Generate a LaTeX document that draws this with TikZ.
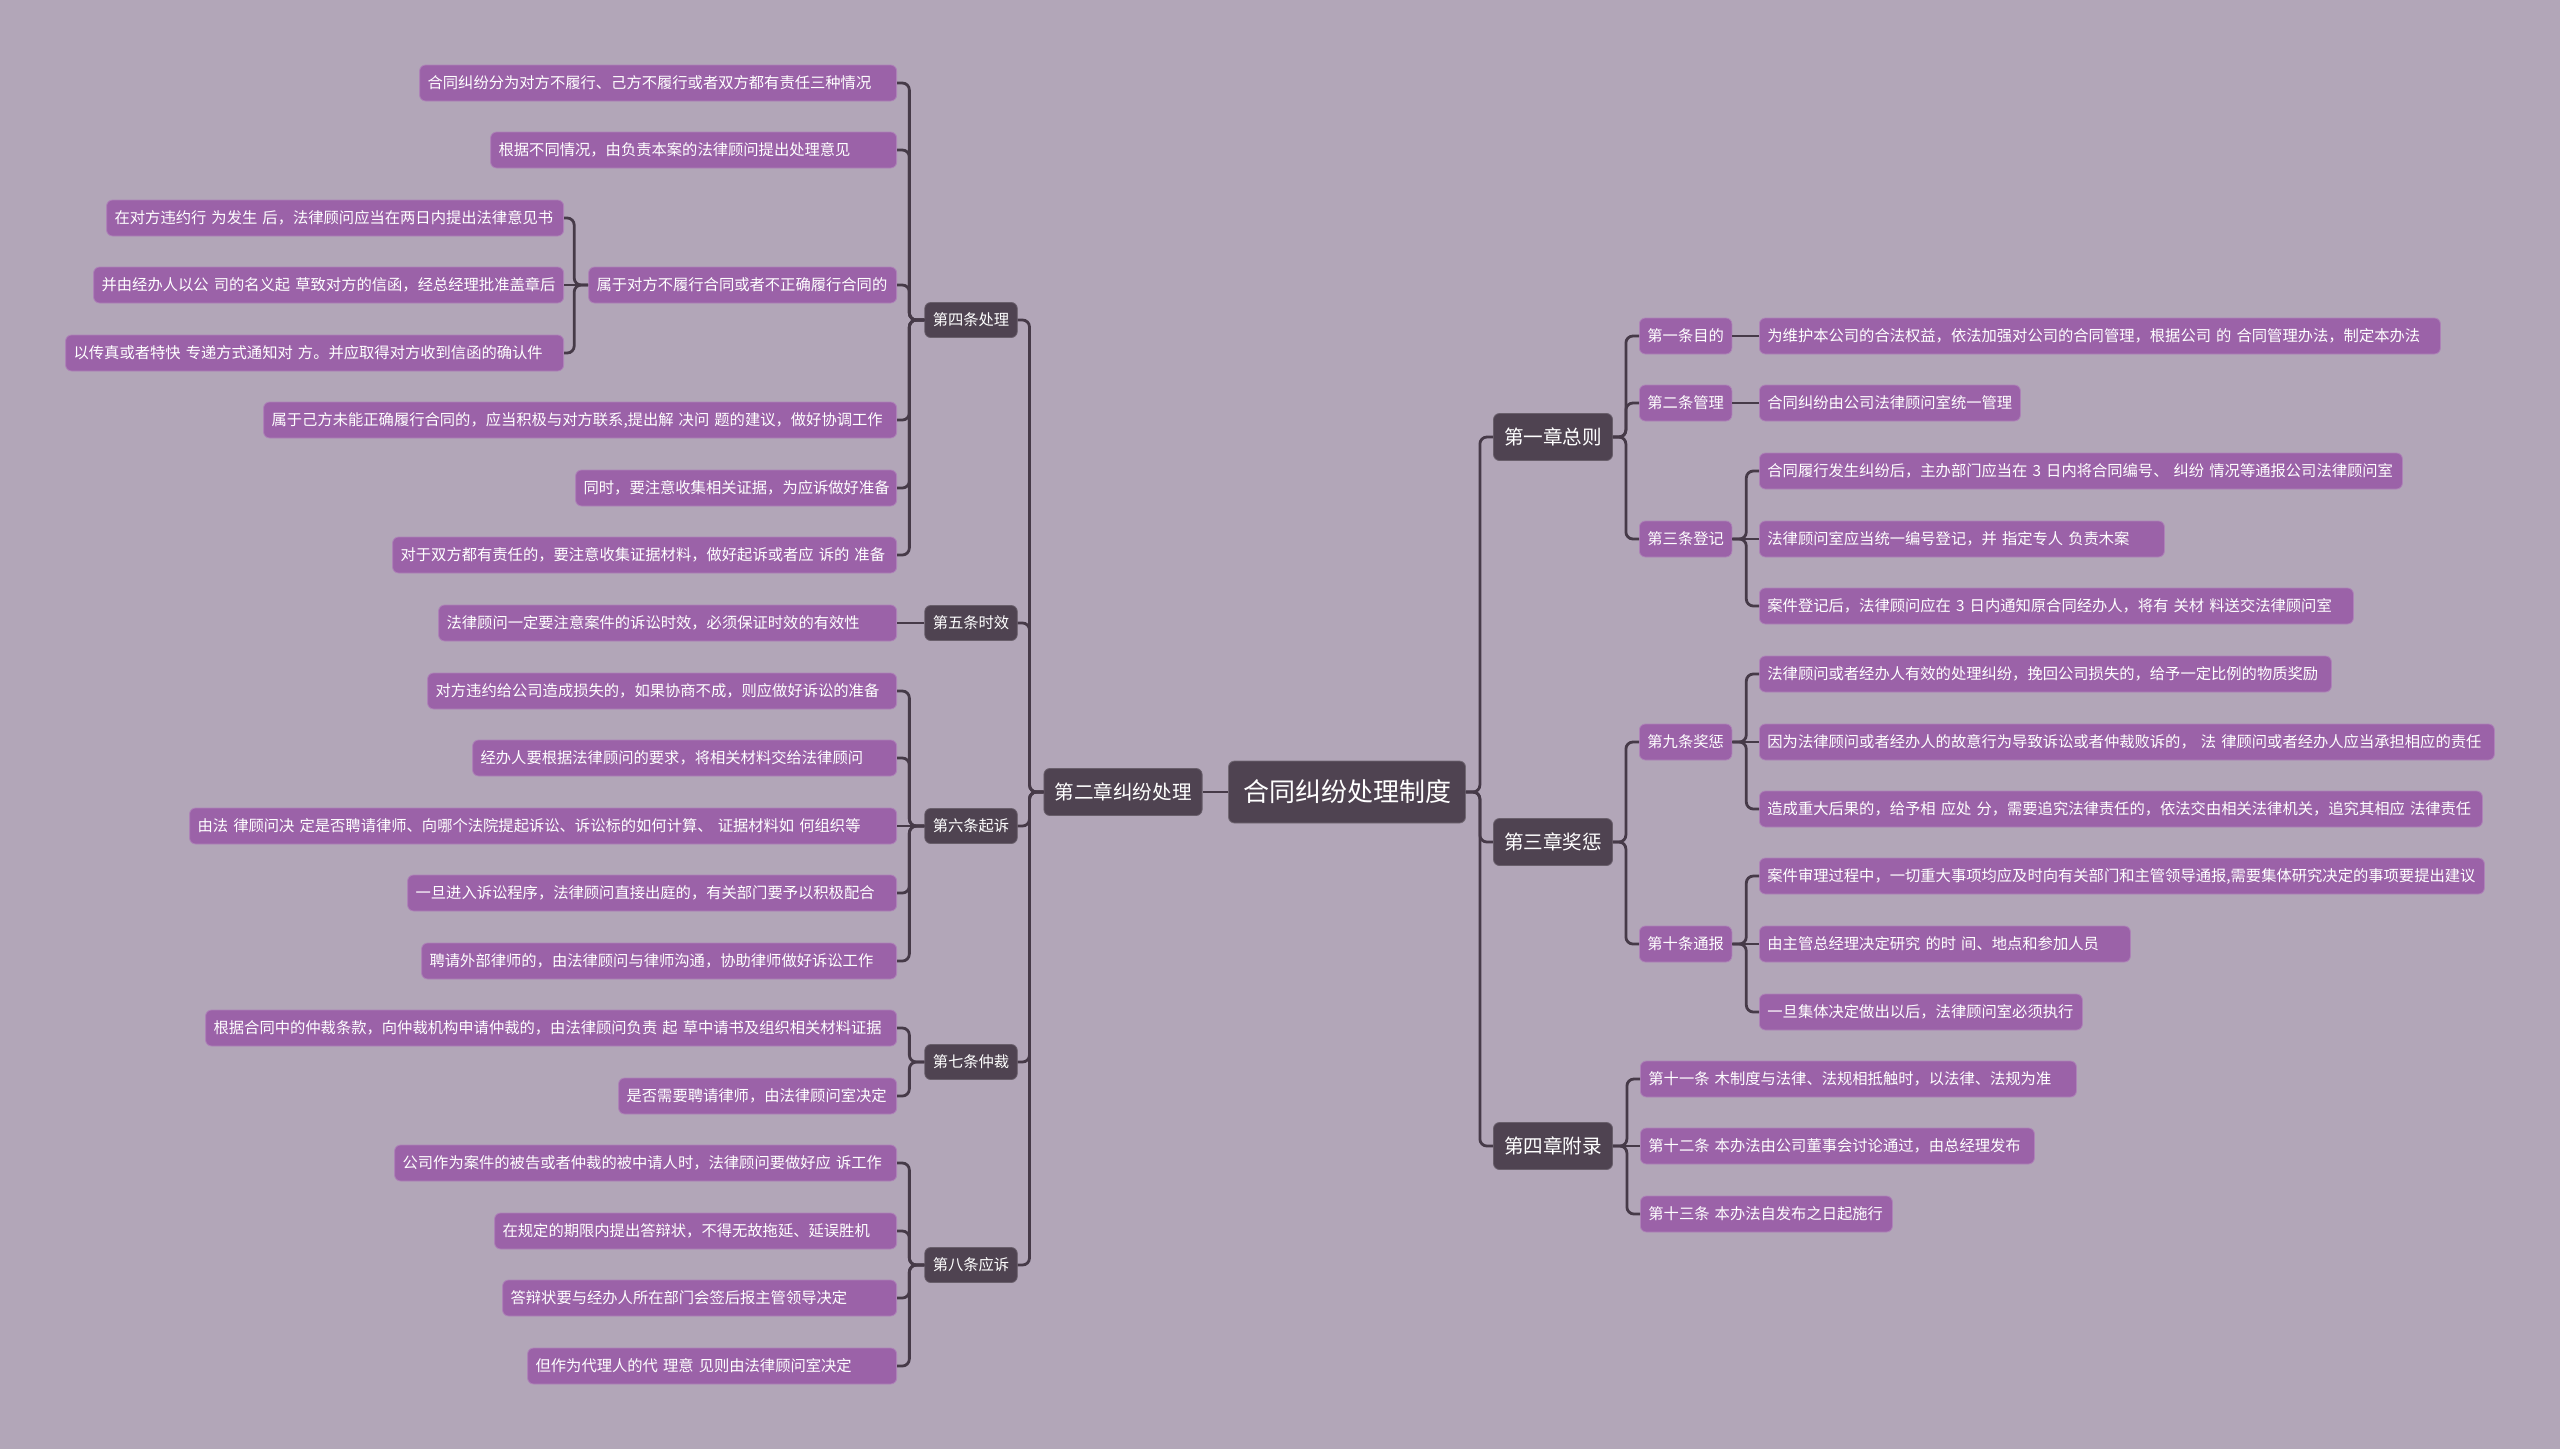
\documentclass[tikz,border=0pt]{standalone}
\usepackage{fontspec}
\setmainfont{Noto Sans CJK SC}
\usetikzlibrary{positioning}
\definecolor{bgc}{HTML}{B2A6B8}
\definecolor{darkc}{HTML}{4F4351}
\definecolor{leafc}{HTML}{9B62A8}
\definecolor{leafedge}{HTML}{AE82B8}
\definecolor{linec}{HTML}{463A48}
\tikzset{
    box/.style={
        text=white,
        rounded corners=6pt,
        line width=0.8pt,
        inner ysep=0pt
    },
    topic/.style={
        box,
        fill=darkc,
        draw=darkc!80!white,
        minimum height=62,
        inner xsep=14.5,
        font=\fontsize{26}{30}\selectfont
    },
    chapter/.style={
        box,
        fill=darkc,
        draw=darkc!85!white,
        minimum height=47,
        inner xsep=10.5,
        font=\fontsize{19.6}{23}\selectfont
    },
    article/.style={
        box,
        fill=darkc,
        draw=darkc!85!white,
        minimum height=35,
        inner xsep=8,
        font=\fontsize{15.3}{18}\selectfont
    },
    leaf/.style={
        box,
        fill=leafc,
        draw=leafedge,
        minimum height=36,
        inner xsep=8,
        font=\fontsize{15.3}{18}\selectfont
    },
    lw/.style={text width=#1pt, align=left},
    branch/.style={
        draw=linec,
        line width=2.8pt,
        rounded corners=7pt,
        to path={(\tikztostart) -- ++(#1,0) |- (\tikztotarget)}
    },
    stem/.style={draw=linec, line width=2.8pt}
}

\begin{document}
\begin{tikzpicture}[x=1pt,y=-1pt]
            % Background :
            \fill [bgc] (0,0) rectangle (2560,1449);
            \useasboundingbox (0,0) rectangle (2560,1449);

            % Centre
            \node (root) [topic] at (1347,792) {合同纠纷处理制度};
            \node (ch2) [chapter] at (1123,792) {第二章纠纷处理};
            \node (ch1) [chapter] at (1553,437) {第一章总则};
            \node (ch3) [chapter] at (1553,842) {第三章奖惩};
            \node (ch4) [chapter] at (1553,1146) {第四章附录};

            % Left articles
            \node (a4) [article] at (971,320) {第四条处理};
            \node (a5) [article] at (971,623) {第五条时效};
            \node (a6) [article] at (971,826) {第六条起诉};
            \node (a7) [article] at (971,1062) {第七条仲裁};
            \node (a8) [article] at (971,1265) {第八条应诉};

            % Left leaves
            \node (p4a) [leaf, lw=461, anchor=east] at (897,83) {合同纠纷分为对方不履行、己方不履行或者双方都有责任三种情况};
            \node (p4b) [leaf, lw=390, anchor=east] at (897,150) {根据不同情况，由负责本案的法律顾问提出处理意见};
            \node (p4c) [leaf, lw=292, anchor=east] at (897,285) {属于对方不履行合同或者不正确履行合同的};
            \node (p4c1) [leaf, lw=441, anchor=east] at (564,218) {在对方违约行 为发生 后，法律顾问应当在两日内提出法律意见书};
            \node (p4c2) [leaf, lw=454, anchor=east] at (564,285) {并由经办人以公 司的名义起 草致对方的信函，经总经理批准盖章后};
            \node (p4c3) [leaf, lw=482, anchor=east] at (564,353) {以传真或者特快 专递方式通知对 方。并应取得对方收到信函的确认件};
            \node (p4d) [leaf, lw=617, anchor=east] at (897,420) {属于己方未能正确履行合同的，应当积极与对方联系,提出解 决问 题的建议，做好协调工作};
            \node (p4e) [leaf, lw=305, anchor=east] at (897,488) {同时，要注意收集相关证据，为应诉做好准备};
            \node (p4f) [leaf, lw=488, anchor=east] at (897,555) {对于双方都有责任的，要注意收集证据材料，做好起诉或者应 诉的 准备};
            \node (p5a) [leaf, lw=442, anchor=east] at (897,623) {法律顾问一定要注意案件的诉讼时效，必须保证时效的有效性};
            \node (p6a) [leaf, lw=453, anchor=east] at (897,691) {对方违约给公司造成损失的，如果协商不成，则应做好诉讼的准备};
            \node (p6b) [leaf, lw=408, anchor=east] at (897,758) {经办人要根据法律顾问的要求，将相关材料交给法律顾问};
            \node (p6c) [leaf, lw=691, anchor=east] at (897,826) {由法 律顾问决 定是否聘请律师、向哪个法院提起诉讼、诉讼标的如何计算、 证据材料如 何组织等};
            \node (p6d) [leaf, lw=473, anchor=east] at (897,893) {一旦进入诉讼程序，法律顾问直接出庭的，有关部门要予以积极配合};
            \node (p6e) [leaf, lw=459, anchor=east] at (897,961) {聘请外部律师的，由法律顾问与律师沟通，协助律师做好诉讼工作};
            \node (p7a) [leaf, lw=675, anchor=east] at (897,1028) {根据合同中的仲裁条款，向仲裁机构申请仲裁的，由法律顾问负责 起 草中请书及组织相关材料证据};
            \node (p7b) [leaf, lw=262, anchor=east] at (897,1096) {是否需要聘请律师，由法律顾问室决定};
            \node (p8a) [leaf, lw=486, anchor=east] at (897,1163) {公司作为案件的被告或者仲裁的被中请人时，法律顾问要做好应 诉工作};
            \node (p8b) [leaf, lw=386, anchor=east] at (897,1231) {在规定的期限内提出答辩状，不得无故拖延、延误胜机};
            \node (p8c) [leaf, lw=378, anchor=east] at (897,1298) {答辩状要与经办人所在部门会签后报主管领导决定};
            \node (p8d) [leaf, lw=353, anchor=east] at (897,1366) {但作为代理人的代 理意 见则由法律顾问室决定};

            % Right articles
            \node (a1) [leaf, anchor=west] at (1639,336) {第一条目的};
            \node (a2) [leaf, anchor=west] at (1639,403) {第二条管理};
            \node (a3) [leaf, anchor=west] at (1639,539) {第三条登记};
            \node (a9) [leaf, anchor=west] at (1639,742) {第九条奖惩};
            \node (a10) [leaf, anchor=west] at (1639,944) {第十条通报};

            % Right leaves
            \node (q1a) [leaf, lw=665, anchor=west] at (1759,336) {为维护本公司的合法权益，依法加强对公司的合同管理，根据公司 的 合同管理办法，制定本办法};
            \node (q2a) [leaf, lw=245, anchor=west] at (1759,403) {合同纠纷由公司法律顾问室统一管理};
            \node (q3a) [leaf, lw=627, anchor=west] at (1759,471) {合同履行发生纠纷后，主办部门应当在 3 日内将合同编号、 纠纷 情况等通报公司法律顾问室};
            \node (q3b) [leaf, lw=389, anchor=west] at (1759,539) {法律顾问室应当统一编号登记，并 指定专人 负责木案};
            \node (q3c) [leaf, lw=578, anchor=west] at (1759,606) {案件登记后，法律顾问应在 3 日内通知原合同经办人，将有 关材 料送交法律顾问室};
            \node (q9a) [leaf, lw=556, anchor=west] at (1759,674) {法律顾问或者经办人有效的处理纠纷，挽回公司损失的，给予一定比例的物质奖励};
            \node (q9b) [leaf, lw=719, anchor=west] at (1759,742) {因为法律顾问或者经办人的故意行为导致诉讼或者仲裁败诉的， 法 律顾问或者经办人应当承担相应的责任};
            \node (q9c) [leaf, lw=707, anchor=west] at (1759,809) {造成重大后果的，给予相 应处 分，需要追究法律责任的，依法交由相关法律机关，追究其相应 法律责任};
            \node (q10a) [leaf, lw=709, anchor=west] at (1759,876) {案件审理过程中，一切重大事项均应及时向有关部门和主管领导通报,需要集体研究决定的事项要提出建议};
            \node (q10b) [leaf, lw=355, anchor=west] at (1759,944) {由主管总经理决定研究 的时 间、地点和参加人员};
            \node (q10c) [leaf, lw=307, anchor=west] at (1759,1012) {一旦集体决定做出以后，法律顾问室必须执行};
            \node (q11) [leaf, lw=420, anchor=west] at (1640,1079) {第十一条 木制度与法律、法规相抵触时，以法律、法规为准};
            \node (q12) [leaf, lw=378, anchor=west] at (1640,1146) {第十二条 本办法由公司董事会讨论通过，由总经理发布};
            \node (q13) [leaf, lw=236, anchor=west] at (1640,1214) {第十三条 本办法自发布之日起施行};

            % Edges
            \path
                % Out of root
                (root.west) edge [stem] (ch2.east)
                (root.east) edge [branch=14] (ch1.west)
                (root.east) edge [branch=14] (ch3.west)
                (root.east) edge [branch=14] (ch4.west)

                % Out of ch2
                (ch2.west) edge [branch=-14] (a4.east)
                (ch2.west) edge [branch=-14] (a5.east)
                (ch2.west) edge [branch=-14] (a6.east)
                (ch2.west) edge [branch=-14] (a7.east)
                (ch2.west) edge [branch=-14] (a8.east)

                % Out of a4
                (a4.west) edge [branch=-15] (p4a.east)
                (a4.west) edge [branch=-15] (p4b.east)
                (a4.west) edge [branch=-15] (p4c.east)
                (a4.west) edge [branch=-15] (p4d.east)
                (a4.west) edge [branch=-15] (p4e.east)
                (a4.west) edge [branch=-15] (p4f.east)
                (p4c.west) edge [branch=-14] (p4c1.east)
                (p4c.west) edge [stem] (p4c2.east)
                (p4c.west) edge [branch=-14] (p4c3.east)

                % Out of a5 .. a8
                (a5.west) edge [stem] (p5a.east)
                (a6.west) edge [branch=-15] (p6a.east)
                (a6.west) edge [branch=-15] (p6b.east)
                (a6.west) edge [stem] (p6c.east)
                (a6.west) edge [branch=-15] (p6d.east)
                (a6.west) edge [branch=-15] (p6e.east)
                (a7.west) edge [branch=-15] (p7a.east)
                (a7.west) edge [branch=-15] (p7b.east)
                (a8.west) edge [branch=-15] (p8a.east)
                (a8.west) edge [branch=-15] (p8b.east)
                (a8.west) edge [branch=-15] (p8c.east)
                (a8.west) edge [branch=-15] (p8d.east)

                % Out of ch1
                (ch1.east) edge [branch=13] (a1.west)
                (ch1.east) edge [branch=13] (a2.west)
                (ch1.east) edge [branch=13] (a3.west)
                (a1.east) edge [stem] (q1a.west)
                (a2.east) edge [stem] (q2a.west)
                (a3.east) edge [branch=14] (q3a.west)
                (a3.east) edge [stem] (q3b.west)
                (a3.east) edge [branch=14] (q3c.west)

                % Out of ch3
                (ch3.east) edge [branch=13] (a9.west)
                (ch3.east) edge [branch=13] (a10.west)
                (a9.east) edge [branch=14] (q9a.west)
                (a9.east) edge [stem] (q9b.west)
                (a9.east) edge [branch=14] (q9c.west)
                (a10.east) edge [branch=14] (q10a.west)
                (a10.east) edge [stem] (q10b.west)
                (a10.east) edge [branch=14] (q10c.west)

                % Out of ch4
                (ch4.east) edge [branch=14] (q11.west)
                (ch4.east) edge [stem] (q12.west)
                (ch4.east) edge [branch=14] (q13.west)
            ;
\end{tikzpicture}
\end{document}
